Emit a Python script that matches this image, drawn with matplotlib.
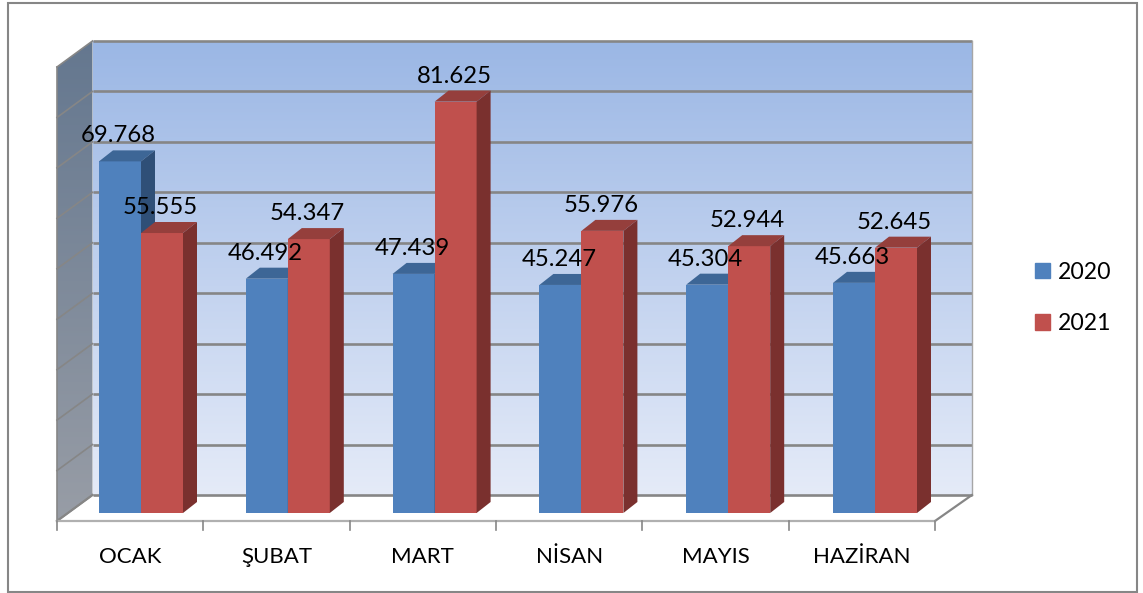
import numpy as np
import matplotlib.pyplot as plt
import matplotlib.patches as patches
from matplotlib.colors import LinearSegmentedColormap

months = ["OCAK", "ŞUBAT", "MART", "NİSAN", "MAYIS", "HAZİRAN"]
years = ["2020", "2021"]
values_2020 = [69.768, 46.492, 47.439, 45.247, 45.304, 45.663]
values_2021 = [55.555, 54.347, 81.625, 55.976, 52.944, 52.645]

plt.rcParams['font.family'] = ['Lato', 'DejaVu Sans']
W, H = 1143, 593
CAT_SIZE = 16
VAL_SIZE = 17.2
LEG_SIZE = 16.6

fig = plt.figure(figsize=(W / 100, H / 100), dpi=100)
ax = fig.add_axes([0, 0, 1, 1])

# eksen: x = kategori, y = deger (bin); pikselle kalibre edildi
PX_CAT = 146.33
PX_VAL = 5.04
X0, Y0 = 57, 513
ax.set_xlim(-X0 / PX_CAT, (W - X0) / PX_CAT)
ax.set_ylim(-(H - Y0) / PX_VAL, Y0 / PX_VAL)
ax.axis('off')


def dx(px):
	return px / PX_CAT


def dy(px):
	return px / PX_VAL


# duvar geometrisi
n = len(months)
vmax = 90
floor_y = dy(-8)          # on kenar, cubuk tabaninin altinda
dep_x, dep_y = dx(35.5), dy(26)
back_l, back_r = dep_x, n + dx(37)
back_b, back_t = floor_y + dep_y, floor_y + dep_y + dy(454)

# arka duvar gradyani
wall_cmap = LinearSegmentedColormap.from_list('wall', ['#9bb7e5', '#e5ebf8'])
ax.imshow(np.linspace(0, 1, 256).reshape(-1, 1), cmap=wall_cmap, aspect='auto', origin='upper',
	extent=(back_l, back_r, back_b, back_t), zorder=1)

# sol duvar gradyani
side_cmap = LinearSegmentedColormap.from_list('side', ['#64778f', '#989da6'])
side_img = ax.imshow(np.linspace(0, 1, 256).reshape(-1, 1), cmap=side_cmap, aspect='auto', origin='upper',
	extent=(0, back_l, floor_y, back_t), zorder=1)
side_poly = patches.Polygon([(0, floor_y), (back_l, back_b), (back_l, back_t), (0, back_t - dep_y)],
	closed=True, transform=ax.transData, facecolor='none', edgecolor='none')
ax.add_patch(side_poly)
side_img.set_clip_path(side_poly)

# kilavuz cizgileri
grid_vals = np.arange(0, vmax + 1, 10)
for v in grid_vals:
	g = back_b + (back_t - back_b) * v / vmax
	ax.plot([back_l, back_r], [g, g], color='#868686', lw=1.9, zorder=2, solid_capstyle='butt')
	ax.plot([0, back_l], [g - dep_y, g], color='#868686', lw=1.2, zorder=2)
ax.plot([back_r, back_r], [back_b, back_t], color='#a6a6a6', lw=1.0, zorder=2)
ax.plot([0, back_l], [floor_y, back_b], color='#868686', lw=1.6, zorder=2)
ax.plot([0, 0], [floor_y, back_t - dep_y], color='#868686', lw=1.2, zorder=2)
ax.plot([n, back_r], [floor_y, back_b], color='#868686', lw=1.6, zorder=2)
ax.plot([0, n], [floor_y, floor_y], color='#b0b0b0', lw=1.6, zorder=2)
for k in range(n + 1):
	ax.plot([k, k], [floor_y, floor_y - dy(9)], color='#868686', lw=1.2, zorder=2)

# cubuklar
bar_w = dx(42)
step = dx(146.8)
start = dx(84)
bar_dx, bar_dy = dx(14), dy(11)
series = [
	(values_2020, -1, '#4f81bd', '#3d6696', '#2f4f77'),
	(values_2021, 0, '#c0504d', '#953f3c', '#7a302e'),
]
for i in range(n):
	for vals, side, front, top, right in series:
		left = start + i * step + side * bar_w
		val = vals[i]
		ax.add_patch(patches.Rectangle((left, 0), bar_w, val, facecolor=front, edgecolor='none', zorder=3))
		ax.add_patch(patches.Polygon([(left, val), (left + bar_w, val), (left + bar_w + bar_dx, val + bar_dy),
			(left + bar_dx, val + bar_dy)], closed=True, facecolor=top, edgecolor='none', zorder=3))
		ax.add_patch(patches.Polygon([(left + bar_w, 0), (left + bar_w + bar_dx, bar_dy),
			(left + bar_w + bar_dx, val + bar_dy), (left + bar_w, val)], closed=True, facecolor=right,
			edgecolor='none', zorder=3))

# deger etiketleri
for i in range(n):
	for vals, side, front, top, right in series:
		center = start + i * step + side * bar_w + bar_w / 2 - dx(1.5)
		ax.text(center, vals[i] + dy(25.5), f"{vals[i]:.3f}", ha='center', va='center',
			fontsize=VAL_SIZE, color='black', zorder=5)

# kategori etiketleri
for i, m in enumerate(months):
	ax.text(i + 0.5, dy(-44), m, ha='center', va='center', fontsize=CAT_SIZE, color='black', zorder=5)

# lejant
handles = [patches.Patch(color=s[2], label=y) for s, y in zip(series, years)]
ax.legend(handles=handles, loc='center left', bbox_to_anchor=(1028 / W, 1 - 298 / H), frameon=False,
	fontsize=LEG_SIZE, handlelength=0.66, handleheight=0.66, handletextpad=0.32, labelspacing=1.32,
	borderpad=0.3, borderaxespad=0)

# dis cerceve
ax.add_patch(patches.Rectangle((8 / W, 1 - 592 / H), 1129 / W, 589 / H, transform=ax.transAxes,
	facecolor='none', edgecolor='#868686', lw=1.5, zorder=6, clip_on=False))

fig.savefig('out.png', dpi=100)
